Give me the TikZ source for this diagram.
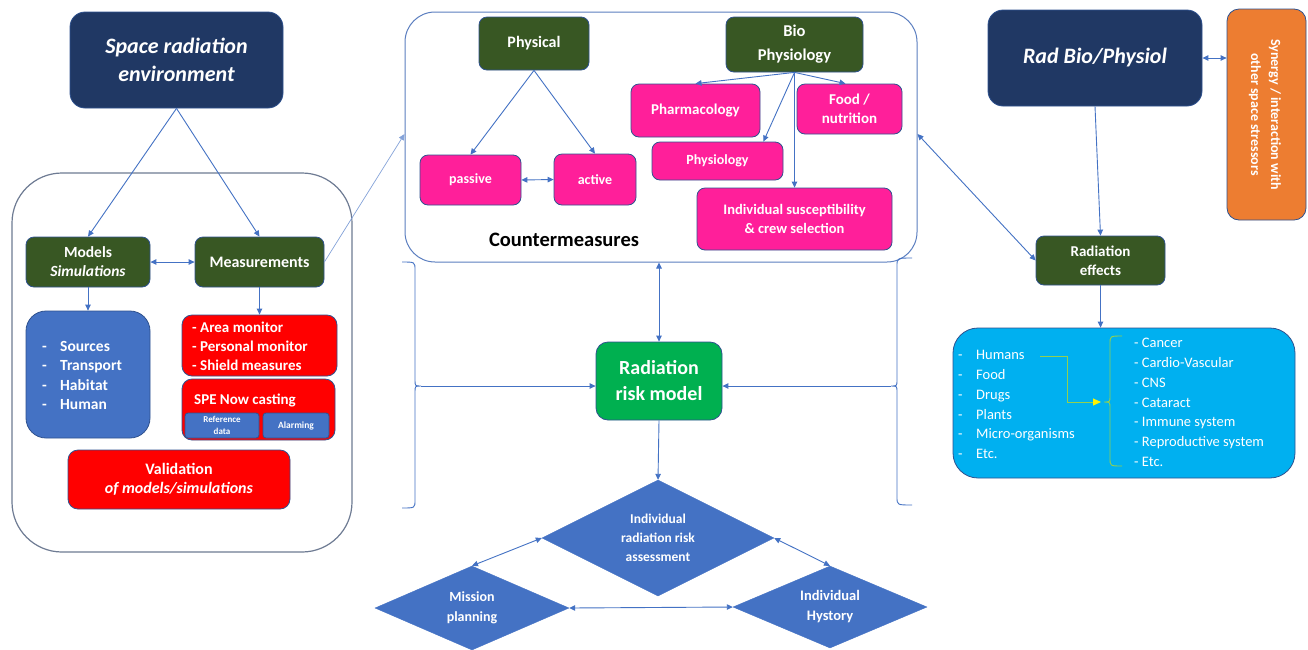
\documentclass[tikz,border=0pt]{standalone}
\usepackage{fontspec}
\setmainfont{Carlito}
\usetikzlibrary{arrows.meta,shapes.geometric,calc}
\definecolor{navy}{HTML}{203864}
\definecolor{dkgreen}{HTML}{385723}
\definecolor{pinkc}{HTML}{FF1F9A}
\definecolor{redc}{HTML}{FF0000}
\definecolor{bluec}{HTML}{4472C4}
\definecolor{greenc}{HTML}{00B050}
\definecolor{orangec}{HTML}{ED7D31}
\definecolor{skyc}{HTML}{00B0F0}
\definecolor{edgec}{HTML}{2F528F}
\definecolor{linec}{HTML}{4472C4}
\definecolor{contl}{HTML}{6E7B93}
\definecolor{contb}{HTML}{5B7EC0}
\definecolor{bracec}{HTML}{92D050}
\newcommand\fsz[2]{\fontsize{#1}{#2}\selectfont}
\begin{document}
\begin{tikzpicture}[x=1pt,y=-1pt,
  box/.style={draw=edgec, line width=0.8pt, rounded corners=8pt, inner sep=1pt, align=center, text=white, font=\bfseries\fsz{15}{19}},
  gbox/.style={box, fill=dkgreen},
  pbox/.style={box, fill=pinkc, font=\bfseries\fsz{14}{19}},
  rbox/.style={box, fill=redc},
  diam/.style={diamond, draw=bluec, fill=bluec, inner sep=0pt, shape aspect=2, align=center, text=white, font=\bfseries\fsz{14}{20}},
  lst/.style={inner sep=0pt, align=left, text=white},
  arr/.style={-{Triangle[length=6pt,width=5.5pt]}, draw=linec, line width=0.9pt},
  darr/.style={{Triangle[length=6pt,width=5.5pt]}-{Triangle[length=6pt,width=5.5pt]}, draw=linec, line width=0.9pt},
  brk/.style={draw=linec, line width=0.9pt}
]
\useasboundingbox (0,0) rectangle (1308,649);
\fill[white] (0,0) rectangle (1308,649);

% ---------- left part ----------
\node[draw=contl, line width=1.2pt, rounded corners=50pt, minimum width=340pt, minimum height=379pt] (leftc) at (182,362.5) {};
\node[box, fill=navy, rounded corners=15pt, minimum width=213pt, minimum height=96pt, font=\bfseries\itshape\fsz{22}{28}] (sre) at (176.5,60) {Space radiation\\environment};
\node[gbox, minimum width=124pt, minimum height=50pt, font=\bfseries\fsz{15.5}{19}] (models) at (88,262) {Models\\\textit{Simulations}};
\node[gbox, minimum width=129pt, minimum height=50pt, font=\bfseries\fsz{16}{19}] (meas) at (259.5,262) {Measurements};
\node[box, fill=bluec, rounded corners=20pt, minimum width=124pt, minimum height=127pt] (sources) at (88,374.5) {};
\node[lst, anchor=west, font=\bfseries\fsz{15.5}{19.5}] (srct) at (42,375.5) {\makebox[18pt][l]{-}Sources\\\makebox[18pt][l]{-}Transport\\\makebox[18pt][l]{-}Habitat\\\makebox[18pt][l]{-}Human};
\node[rbox, rounded corners=10pt, minimum width=155pt, minimum height=61pt] (area) at (259.5,345.5) {};
\node[lst, anchor=west, font=\bfseries\fsz{15}{19}] (areat) at (192,346) {- Area monitor\\- Personal monitor\\- Shield measures};
\node[rbox, rounded corners=10pt, minimum width=153pt, minimum height=61pt] (spe) at (258.5,409.5) {};
\node[lst, anchor=west, font=\bfseries\fsz{15}{19}] (spet) at (194,400) {SPE Now casting};
\node[box, fill=bluec, rounded corners=3pt, minimum width=74pt, minimum height=25pt, font=\bfseries\fsz{9}{11.5}] (refd) at (222,425.5) {Reference\\data};
\node[box, fill=bluec, rounded corners=3pt, minimum width=66pt, minimum height=25pt, font=\bfseries\fsz{9.5}{12}] (alarm) at (296,425.5) {Alarming};
\node[rbox, rounded corners=10pt, minimum width=222pt, minimum height=59pt, font=\bfseries\fsz{16}{19}] (valid) at (179,479.5) {Validation\\\textit{of models/simulations}};

\draw[arr] (sre.south) -- (models.north);
\draw[arr] (sre.south) -- (meas.north);
\draw[darr] (models.east) -- (meas.west);
\draw[arr] (models.south) -- (sources.north);
\draw[arr] (meas.south) -- (area.north);

% ---------- countermeasures ----------
\node[draw=contb, line width=1pt, rounded corners=30pt, minimum width=512pt, minimum height=250pt] (cm) at (661,137) {};
\node[font=\bfseries\fsz{20.5}{24}, inner sep=0pt] (cml) at (564,240) {Countermeasures};
\node[gbox, minimum width=110pt, minimum height=53pt, font=\bfseries\fsz{16}{19}] (phys) at (534,43.5) {Physical};
\node[gbox, minimum width=137pt, minimum height=55pt, font=\bfseries\fsz{16.5}{24}] (bio) at (794.5,44.5) {Bio\\Physiology};
\node[pbox, minimum width=101pt, minimum height=50pt] (passive) at (470.5,180) {passive};
\node[pbox, minimum width=82pt, minimum height=51pt] (active) at (595,179.5) {active};
\node[pbox, minimum width=129pt, minimum height=53pt, font=\bfseries\fsz{15}{19}] (pharma) at (695.5,110.5) {Pharmacology};
\node[pbox, minimum width=105pt, minimum height=50pt, font=\bfseries\fsz{15}{19}] (food) at (849.5,109) {Food /\\nutrition};
\node[pbox, minimum width=131pt, minimum height=38pt] (physio) at (717.5,161) {Physiology};
\node[pbox, minimum width=195pt, minimum height=62pt, font=\bfseries\fsz{14.5}{19}] (indiv) at (794.5,219) {Individual susceptibility\\\& crew selection};

\draw[arr] (phys.south) -- (passive.north);
\draw[arr] (phys.south) -- (active.north);
\draw[darr] (passive.east) -- (active.west);
\draw[arr] (bio.south) -- (pharma.north);
\draw[arr] (bio.south) -- ([xshift=-20pt]physio.north east);
\draw[arr] (bio.south) -- (indiv.north);
\draw[arr] (bio.south) -- ([xshift=-4pt]food.north);

\draw[-{Triangle[length=6pt,width=5.5pt]}, draw=linec!65, line width=0.7pt] (meas.east) -- ([yshift=3pt]cm.west);

% ---------- right part ----------
\node[box, fill=navy, rounded corners=15pt, minimum width=214pt, minimum height=96pt, font=\bfseries\itshape\fsz{22}{28}] (radbio) at (1095,58) {Rad Bio/Physiol};
\node[box, fill=orangec, rounded corners=12pt, minimum width=79pt, minimum height=211pt] (syn) at (1266.5,114.5) {};
\node[rotate=-90, inner sep=0pt, align=center, text=white, font=\bfseries\fsz{14}{20}] (synt) at (1265,114.5) {Synergy / interaction with\\other space stressors};
\node[gbox, minimum width=129pt, minimum height=49pt] (radeff) at (1100.5,260.5) {Radiation\\effects};
\node[box, fill=skyc, rounded corners=25pt, minimum width=342pt, minimum height=150pt] (effbox) at (1124,403) {};
\node[lst, anchor=west, font=\fsz{14.5}{19.8}] (efl) at (958,404.5) {\makebox[18pt][l]{-}Humans\\\makebox[18pt][l]{-}Food\\\makebox[18pt][l]{-}Drugs\\\makebox[18pt][l]{-}Plants\\\makebox[18pt][l]{-}Micro-organisms\\\makebox[18pt][l]{-}Etc.};
\node[lst, anchor=west, font=\fsz{14.5}{19.8}] (efr) at (1134,402.5) {- Cancer\\- Cardio-Vascular\\- CNS\\- Cataract\\- Immune system\\- Reproductive system\\- Etc.};
\draw[draw=bracec, line width=0.9pt] (1122,336) .. controls (1110,336) .. (1110,344) -- (1110,396) .. controls (1110,402) .. (1104,402) .. controls (1110,402) .. (1110,408) -- (1110,458) .. controls (1110,466) .. (1122,466);
\coordinate (humend) at (1040,356);
\coordinate (bracetip) at (1101,402);
\draw[-{Triangle[length=8pt,width=7pt,color=yellow]}, draw=bracec, line width=0.9pt] (humend) -- (1067,356) -- (1067,402) -- (bracetip);

\draw[darr] (radbio.east) -- (syn.west |- radbio.east);
\draw[arr] (radbio.south) -- (radeff.north);
\draw[arr] (radeff.south) -- (radeff.south |- effbox.north);
\draw[darr] ([yshift=3pt]cm.east) -- (radeff.west);

% ---------- centre ----------
\node[box, fill=greenc, rounded corners=12pt, minimum width=126pt, minimum height=78pt, font=\bfseries\fsz{20}{26}] (risk) at (659,381) {Radiation\\risk model};
\node[diam, minimum width=232pt, minimum height=116pt, font=\bfseries\fsz{13.5}{19}] (assess) at (658,538) {Individual\\radiation risk\\assessment};
\node[diam, minimum width=194pt, minimum height=84pt] (mission) at (472,608) {Mission\\planning};
\node[diam, minimum width=194pt, minimum height=82pt, font=\bfseries\fsz{14.5}{20}] (hist) at (830,607) {Individual\\Hystory};

\draw[brk] (402,262) .. controls (415,262) .. (415,270) -- (415,380) .. controls (415,386) .. (421,386) .. controls (415,386) .. (415,392) -- (415,500) .. controls (415,508) .. (402,508);
\coordinate (lbr) at (421,386);
\draw[brk] (912,258) .. controls (897,258) .. (897,266) -- (897,380) .. controls (897,386) .. (891,386) .. controls (897,386) .. (897,392) -- (897,497) .. controls (897,505) .. (912,505);
\coordinate (rbr) at (891,386);

\draw[arr] (lbr) -- (lbr -| risk.west);
\draw[arr] (rbr) -- (rbr -| risk.east);
\draw[darr] (risk.north |- cm.south) -- (risk.north);
\draw[arr] (risk.south) -- (assess.north);
\draw[darr] (assess.west) -- (mission.north);
\draw[darr] (assess.east) -- (hist.north);
\draw[darr] (mission.east) -- (hist.west);
\end{tikzpicture}
\end{document}
